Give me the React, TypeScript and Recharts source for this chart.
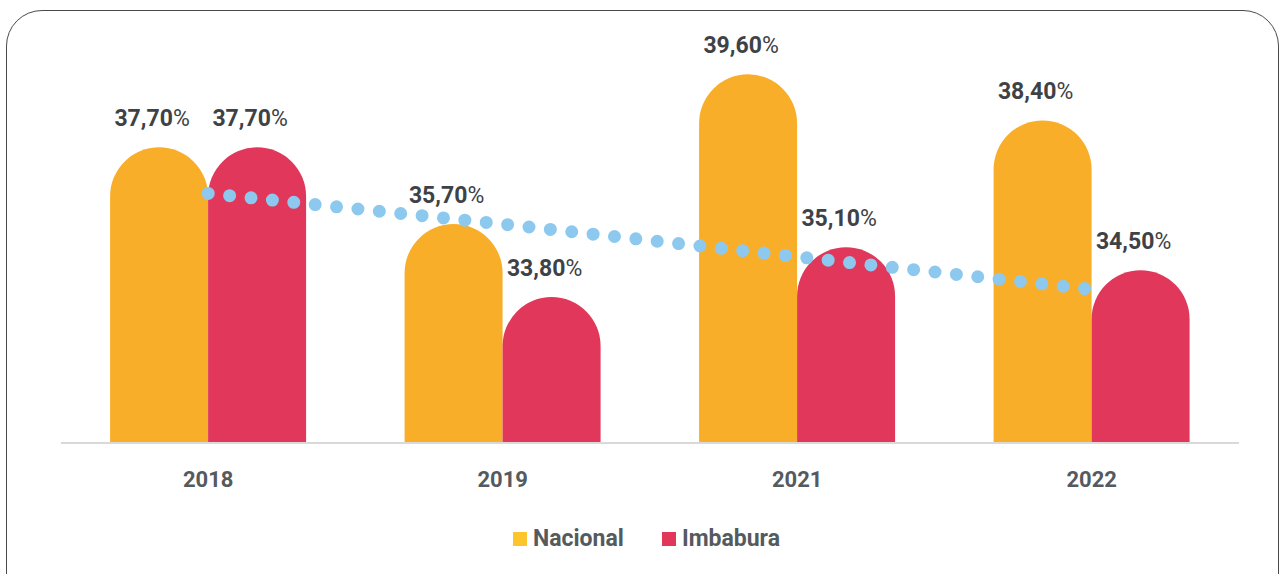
import React from 'react';
import { ComposedChart, Bar, Line, XAxis, YAxis, LabelList } from 'recharts';

const years = ['2018', '2019', '2021', '2022'];
const nacional = [37.7, 35.7, 39.6, 38.4];
const imbabura = [37.7, 33.8, 35.1, 34.5];
// linear trend of Imbabura
const trend = [36.5, 35.7, 34.85, 34.0];

const NAC_COLOR = '#F9AE29';
const IMB_COLOR = '#E0375A';
const TREND_COLOR = '#8DC9EE';
const FONT = 'Roboto, "Noto Sans", sans-serif';

const data = years.map((year, i) => ({
  year,
  nacional: nacional[i],
  imbabura: imbabura[i],
  trend: trend[i],
}));

const fmt = (v: number) => v.toFixed(2).replace('.', ',');

const ValueLabel = (props: any) => {
  const { x, y, width, value } = props;
  return (
    <text
      x={x + width / 2 - 7}
      y={y - 21}
      textAnchor="middle"
      fill="#3E4246"
      fontFamily={FONT}
      fontSize={23}
      fontWeight={700}
    >
      {fmt(value)}
      <tspan fontWeight={400}>%</tspan>
    </text>
  );
};

const YearTick = (props: any) => {
  const { x, payload } = props;
  return (
    <text x={x} y={487} textAnchor="middle" fill="#555A5F" fontFamily={FONT} fontSize={22} fontWeight={700}>
      {payload.value}
    </text>
  );
};

const legendItems = [
  { label: 'Nacional', color: '#FDC52C' },
  { label: 'Imbabura', color: IMB_COLOR },
];

export default function App() {
  return (
    <div style={{ position: 'absolute', left: 0, top: 0, width: 1287, height: 574, overflow: 'hidden', background: '#fff' }}>
      <div
        style={{
          position: 'absolute',
          left: 6,
          top: 10,
          width: 1273,
          height: 620,
          border: '1.3px solid #4a4a4a',
          borderRadius: 36,
          boxSizing: 'border-box',
        }}
      />
      <div style={{ position: 'absolute', left: 0, top: 0 }}>
        <ComposedChart
          width={1287}
          height={574}
          data={data}
          margin={{ top: 59, right: 48, bottom: 0, left: 61 }}
          barCategoryGap="16.67%"
          barGap={0}
        >
          <XAxis
            dataKey="year"
            height={131}
            axisLine={{ stroke: '#D9D9D9', strokeWidth: 2 }}
            tickLine={false}
            tick={<YearTick />}
          />
          <YAxis hide domain={[30, 40]} allowDataOverflow />
          <Bar dataKey="nacional" fill={NAC_COLOR} radius={[49, 49, 0, 0]} isAnimationActive={false}>
            <LabelList dataKey="nacional" content={<ValueLabel />} />
          </Bar>
          <Bar dataKey="imbabura" fill={IMB_COLOR} radius={[49, 49, 0, 0]} isAnimationActive={false}>
            <LabelList dataKey="imbabura" content={<ValueLabel />} />
          </Bar>
          <Line
            dataKey="trend"
            type="linear"
            stroke={TREND_COLOR}
            strokeWidth={13}
            strokeDasharray="0 21.5"
            strokeLinecap="round"
            dot={false}
            activeDot={false}
            legendType="none"
            isAnimationActive={false}
          />
        </ComposedChart>
      </div>
      <div
        style={{
          position: 'absolute',
          top: 525,
          left: 0,
          width: 1287,
          display: 'flex',
          justifyContent: 'center',
          gap: 38,
          fontFamily: FONT,
          fontSize: 23,
          fontWeight: 700,
          color: '#555A5F',
          paddingLeft: 6,
          boxSizing: 'border-box',
        }}
      >
        {legendItems.map((item) => (
          <div key={item.label} style={{ display: 'flex', alignItems: 'center', gap: 6 }}>
            <span style={{ width: 14, height: 14, background: item.color, display: 'inline-block' }} />
            <span>{item.label}</span>
          </div>
        ))}
      </div>
    </div>
  );
}
